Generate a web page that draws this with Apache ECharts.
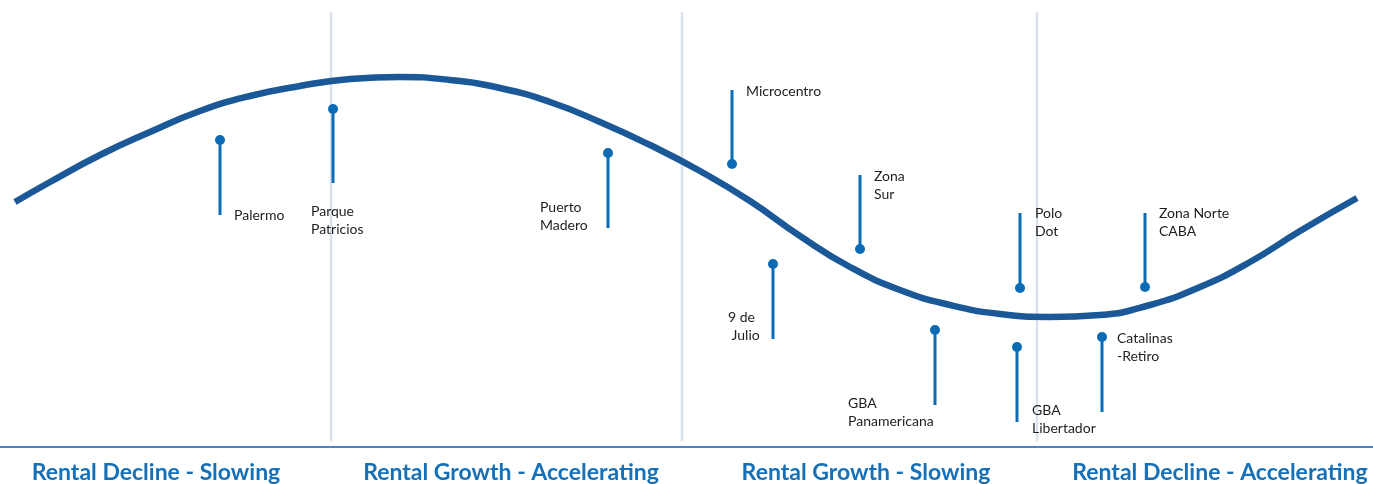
<!DOCTYPE html>
<html>
<head>
<meta charset="utf-8">
<script src="https://cdn.jsdelivr.net/npm/echarts@6/dist/echarts.min.js"></script>
<style>
html,body{margin:0;padding:0;background:#fff;}
#chart{width:1373px;height:484px;}
</style>
</head>
<body>
<div id="chart"></div>
<script>
// Rental cycle curve (cycle position vs. rental level, inverted scale)
const curveX = [15, 50, 100, 150, 200, 250, 300, 350, 400, 450, 500, 550, 600, 650, 700, 750, 800, 850, 900, 950, 1000, 1050, 1100, 1150, 1200, 1250, 1300, 1357];
const curveY = [202, 182, 155, 132, 111, 96, 86, 79, 77, 80, 88, 102, 122, 145, 171, 201, 236, 267, 290, 305, 314, 317, 315, 305, 287, 262, 231, 198];

// Submarkets
const zoneNames = ['Palermo', 'Parque\nPatricios', 'Puerto\nMadero', 'Microcentro', 'Zona\nSur', '9 de\n Julio', 'GBA\nPanamericana', 'Polo\nDot', 'GBA\nLibertador', 'Zona Norte\nCABA', 'Catalinas\n-Retiro'];
const zoneDotX   = [220, 333, 608, 732, 860, 773, 935, 1020, 1017, 1145, 1102];
const zoneDotY   = [140, 109, 153, 164, 249, 264, 330, 288, 347, 287, 337];
const zoneStemY  = [215, 183, 228, 90, 175, 339, 405, 213, 422, 213, 412];
const zoneLabelX = [234, 311, 540, 746, 874, 728, 848, 1035, 1032, 1159, 1117];
const zoneLabelY = [215, 211, 207, 91, 176, 317, 403, 213, 410, 213, 338];

// Cycle phases
const phaseNames = ['Rental Decline - Slowing', 'Rental Growth - Accelerating', 'Rental Growth - Slowing', 'Rental Decline - Accelerating'];
const phaseX = [156, 511, 866, 1220];
const phaseY = 473;
const dividerX = [331, 682, 1037];
const dividerTop = 12, dividerBottom = 441;
const baselineY = 447;

const chart = echarts.init(document.getElementById('chart'), null, {renderer: 'canvas'});

const option = {
  animation: false,
  backgroundColor: '#ffffff',
  grid: {left: 0, right: 0, top: 0, bottom: 0},
  xAxis: {type: 'value', min: 0, max: 1373, show: false},
  yAxis: {type: 'value', min: 0, max: 484, inverse: true, show: false},
  series: [
    {
      type: 'custom',
      silent: true,
      data: dividerX.map(x => [x, dividerTop, dividerBottom]),
      renderItem: function (params, api) {
        const a = api.coord([api.value(0), api.value(1)]);
        const b = api.coord([api.value(0), api.value(2)]);
        return {type: 'line', shape: {x1: a[0], y1: a[1], x2: b[0], y2: b[1]}, style: {stroke: '#d9e3ee', lineWidth: 2.5}};
      },
      z: 1
    },
    {
      type: 'custom',
      silent: true,
      data: [[0, baselineY, 1373]],
      renderItem: function (params, api) {
        const a = api.coord([api.value(0), api.value(1)]);
        const b = api.coord([api.value(2), api.value(1)]);
        return {type: 'line', shape: {x1: a[0], y1: a[1], x2: b[0], y2: b[1]}, style: {stroke: '#4784c4', lineWidth: 2}};
      },
      z: 1
    },
    {
      type: 'line',
      data: curveX.map((x, i) => [x, curveY[i]]),
      smooth: 0.5,
      showSymbol: false,
      symbol: 'none',
      lineStyle: {color: '#1b5898', width: 6.5},
      z: 2
    },
    {
      type: 'custom',
      silent: true,
      data: zoneNames.map((n, i) => [zoneDotX[i], zoneDotY[i], zoneStemY[i], zoneLabelX[i], zoneLabelY[i]]),
      renderItem: function (params, api) {
        const d = api.coord([api.value(0), api.value(1)]);
        const e = api.coord([api.value(0), api.value(2)]);
        const l = api.coord([api.value(3), api.value(4)]);
        return {
          type: 'group',
          children: [
            {type: 'line', shape: {x1: d[0], y1: d[1], x2: e[0], y2: e[1]}, style: {stroke: '#0b6bb5', lineWidth: 3}},
            {type: 'circle', shape: {cx: d[0], cy: d[1], r: 5}, style: {fill: '#0b6bb5'}},
            {type: 'text', x: l[0], y: l[1] - 9, style: {text: zoneNames[params.dataIndex], fill: '#1e1e1e', fontFamily: 'Lato', fontSize: 14, align: 'left', verticalAlign: 'top', lineHeight: 18}}
          ]
        };
      },
      z: 3
    },
    {
      type: 'custom',
      silent: true,
      data: phaseNames.map((n, i) => [phaseX[i], phaseY]),
      renderItem: function (params, api) {
        const p = api.coord([api.value(0), api.value(1)]);
        return {type: 'text', x: p[0], y: p[1], style: {text: phaseNames[params.dataIndex], fill: '#1570b8', fontFamily: 'Lato', fontSize: 23, fontWeight: 'bold', align: 'center', verticalAlign: 'middle'}};
      },
      z: 3
    }
  ]
};
chart.setOption(option);
</script>
</body>
</html>
